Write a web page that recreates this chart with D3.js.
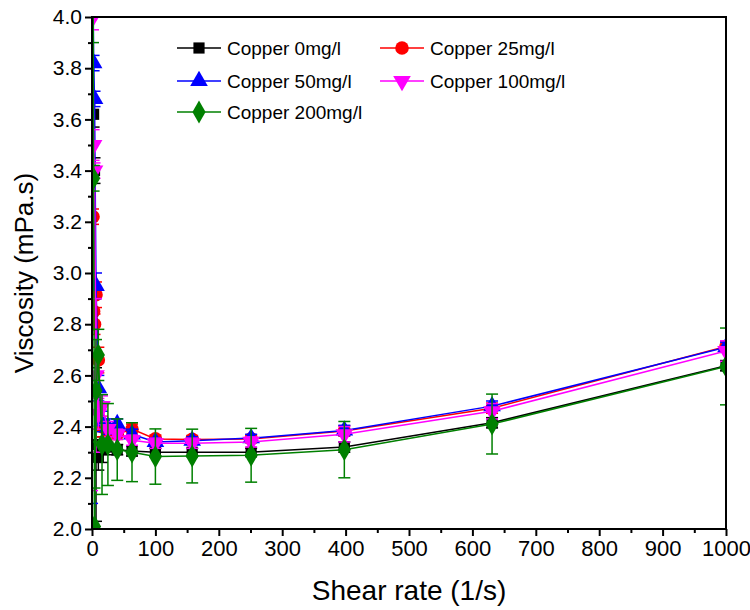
<!DOCTYPE html>
<html>
<head>
<meta charset="utf-8">
<script src="https://cdn.jsdelivr.net/npm/d3@7"></script>
<style>
  body { margin: 0; background: #fff; }
  svg { display: block; }
  .ytick text { font-family: "Liberation Sans", Arial, sans-serif; font-size: 21px; fill: #000; }
  .xtick text { font-family: "Liberation Sans Narrow", "Arial Narrow", "Liberation Sans", sans-serif; font-size: 22px; fill: #000; }
  .legend text { font-family: "Liberation Sans", Arial, sans-serif; font-size: 19px; fill: #000; }
</style>
</head>
<body>
<div id="chart"></div>
<script>
// chart data
var shearRate = [0.1, 0.158, 0.251, 0.398, 0.631, 1, 1.58, 2.51, 3.98, 6.31, 10, 15.8, 25.1, 39.8, 63.1, 100, 158, 251, 398, 631, 1000];

var copper0 = [5.4, 5.1, 4.8, 4.6, 4.4, 4.3, 4.2, 3.62, 3.40, 2.33, 2.28, 2.31, 2.32, 2.31, 2.305, 2.30, 2.30, 2.30, 2.32, 2.415, 2.638];
var copper25 = [5.6, 5.2, 4.9, 4.6, 4.4, 4.2, 3.22, 2.85, 2.80, 2.915, 2.66, 2.40, 2.38, 2.37, 2.39, 2.352, 2.35, 2.352, 2.383, 2.472, 2.713];
var copper50 = [1.9, 5.3, 5.0, 4.7, 4.5, 4.3, 4.2, 3.82, 3.68, 2.95, 2.55, 2.42, 2.40, 2.41, 2.37, 2.34, 2.345, 2.355, 2.385, 2.48, 2.71];
var copper100 = [1.95, 5.5, 5.1, 4.8, 4.5, 4.3, 4.0, 3.50, 3.40, 2.60, 2.45, 2.48, 2.39, 2.37, 2.347, 2.335, 2.335, 2.34, 2.37, 2.46, 2.695];
var copper200 = [5.0, 4.8, 4.6, 4.5, 4.4, 4.3, 4.2, 3.37, 2.01, 2.54, 2.68, 2.33, 2.33, 2.31, 2.30, 2.283, 2.285, 2.288, 2.31, 2.41, 2.635];

// standard deviations (error bars)
var err0 = [0.2, 0.2, 0.2, 0.2, 0.2, 0.2, 0.2, 0.05, 0.05, 0.3, 0.05, 0.05, 0.03, 0.02, 0.02, 0.015, 0.015, 0.015, 0.02, 0.02, 0.02];
var err25 = [0.2, 0.2, 0.2, 0.2, 0.2, 0.2, 0.03, 0.05, 0.04, 0.05, 0.05, 0.04, 0.03, 0.02, 0.02, 0.015, 0.015, 0.015, 0.02, 0.02, 0.02];
var err50 = [0.2, 0.2, 0.2, 0.2, 0.2, 0.2, 0.2, 0.03, 0.03, 0.05, 0.05, 0.04, 0.03, 0.02, 0.02, 0.015, 0.015, 0.015, 0.02, 0.02, 0.02];
var err100 = [0.2, 0.2, 0.2, 0.2, 0.2, 0.2, 0.05, 0.06, 0.03, 0.3, 0.06, 0.04, 0.03, 0.02, 0.02, 0.02, 0.02, 0.02, 0.03, 0.03, 0.04];
var err200 = [0.3, 0.3, 0.3, 0.3, 0.3, 0.3, 0.3, 0.05, 0.15, 0.2, 0.1, 0.195, 0.16, 0.12, 0.115, 0.108, 0.105, 0.105, 0.11, 0.117, 0.15];

var seriesNames = ["Copper 0mg/l", "Copper 25mg/l", "Copper 50mg/l", "Copper 100mg/l", "Copper 200mg/l"];
var seriesColors = ["#000000", "#ff0000", "#0000ff", "#ff00ff", "#008000"];
var seriesValues = [copper0, copper25, copper50, copper100, copper200];
var seriesErrors = [err0, err25, err50, err100, err200];
var seriesSymbols = [d3.symbolSquare, d3.symbolCircle, d3.symbolTriangle, d3.symbolTriangle, d3.symbolDiamond];

// setting up SVG
var svgWidth = 750;
var svgHeight = 610;

var margin = { top: 17, right: 24, bottom: 81, left: 92 };
var width = svgWidth - margin.left - margin.right;
var height = svgHeight - margin.top - margin.bottom;

var svg = d3.select("#chart")
  .append("svg")
  .attr("width", svgWidth)
  .attr("height", svgHeight);

var chartGroup = svg.append("g")
  .attr("transform", `translate(${margin.left}, ${margin.top})`);

var xScale = d3.scaleLinear().domain([0, 1000]).range([0, width]);
var yScale = d3.scaleLinear().domain([2.0, 4.0]).range([height, 0]);

// minor ticks
chartGroup.append("g")
  .attr("transform", `translate(0, ${height})`)
  .call(d3.axisBottom(xScale).tickValues(d3.range(50, 1000, 100)).tickSize(4).tickFormat(""))
  .call(g => g.select(".domain").remove())
  .selectAll("line").attr("stroke-width", 2);

chartGroup.append("g")
  .call(d3.axisLeft(yScale).tickValues(d3.range(2.1, 4.0, 0.2)).tickSize(4).tickFormat(""))
  .call(g => g.select(".domain").remove())
  .selectAll("line").attr("stroke-width", 2);

// major ticks with labels
var xAxis = chartGroup.append("g")
  .attr("class", "xtick")
  .attr("transform", `translate(0, ${height})`)
  .call(d3.axisBottom(xScale).tickValues(d3.range(0, 1001, 100)).tickSize(7).tickPadding(4).tickFormat(d3.format("d")));
xAxis.select(".domain").remove();
xAxis.selectAll("line").attr("stroke-width", 2);
xAxis.selectAll("text").attr("font-family", null).attr("font-size", null);

var yAxis = chartGroup.append("g")
  .attr("class", "ytick")
  .call(d3.axisLeft(yScale).tickValues(d3.range(0, 11).map(i => 2 + i * 0.2)).tickSize(7).tickPadding(3).tickFormat(d3.format(".1f")));
yAxis.select(".domain").remove();
yAxis.selectAll("line").attr("stroke-width", 2);
yAxis.selectAll("text").attr("font-family", null).attr("font-size", null);

// clip for the data
chartGroup.append("clipPath")
  .attr("id", "plotClip")
  .append("rect")
  .attr("width", width)
  .attr("height", height);

var dataGroup = chartGroup.append("g").attr("clip-path", "url(#plotClip)");

var line = d3.line()
  .x((d, i) => xScale(shearRate[i]))
  .y(d => yScale(d));

function symbolPath(k) {
  var sizes = [125, 145, 135, 135, 150];
  return d3.symbol().type(seriesSymbols[k]).size(sizes[k])();
}

seriesValues.forEach(function(values, k) {
  var color = seriesColors[k];
  var g = dataGroup.append("g");

  // error bars
  var bars = g.selectAll(".err")
    .data(values)
    .enter()
    .append("g")
    .attr("stroke", color)
    .attr("stroke-width", 1.5);

  bars.append("line")
    .attr("x1", (d, i) => xScale(shearRate[i]))
    .attr("x2", (d, i) => xScale(shearRate[i]))
    .attr("y1", (d, i) => yScale(d - seriesErrors[k][i]))
    .attr("y2", (d, i) => yScale(d + seriesErrors[k][i]));

  [-1, 1].forEach(function(sign) {
    bars.append("line")
      .attr("x1", (d, i) => xScale(shearRate[i]) - 6)
      .attr("x2", (d, i) => xScale(shearRate[i]) + 6)
      .attr("y1", (d, i) => yScale(d + sign * seriesErrors[k][i]))
      .attr("y2", (d, i) => yScale(d + sign * seriesErrors[k][i]));
  });

  // connecting line
  g.append("path")
    .datum(values)
    .attr("fill", "none")
    .attr("stroke", color)
    .attr("stroke-width", 1.5)
    .attr("d", line);

  // markers
  g.selectAll(".marker")
    .data(values)
    .enter()
    .append("path")
    .attr("d", symbolPath(k))
    .attr("fill", color)
    .attr("transform", function(d, i) {
      var rot = k === 3 ? " rotate(180)" : "";
      return `translate(${xScale(shearRate[i])}, ${yScale(d)})${rot}`;
    });
});

// frame
chartGroup.append("rect")
  .attr("width", width)
  .attr("height", height)
  .attr("fill", "none")
  .attr("stroke", "#000")
  .attr("stroke-width", 2);

// legend
var legendPos = [[85, 31], [288, 31], [85, 64], [288, 64], [85, 95]];
var legend = chartGroup.append("g").attr("class", "legend");

seriesNames.forEach(function(name, k) {
  var item = legend.append("g")
    .attr("transform", `translate(${legendPos[k][0]}, ${legendPos[k][1]})`);
  item.append("line")
    .attr("x1", 0).attr("x2", 44)
    .attr("stroke", seriesColors[k])
    .attr("stroke-width", 1.5);
  item.append("path")
    .attr("d", symbolPath(k))
    .attr("fill", seriesColors[k])
    .attr("transform", `translate(22, 0)${k === 3 ? " rotate(180)" : ""}`);
  item.append("text")
    .attr("x", 50)
    .attr("dy", "0.35em")
    .text(name);
});

// axis titles
svg.append("text")
  .attr("x", margin.left + width / 2)
  .attr("y", 600)
  .attr("text-anchor", "middle")
  .style("font-family", "'Liberation Sans Narrow', 'Arial Narrow', sans-serif")
  .style("font-size", "28px")
  .text("Shear rate (1/s)");

svg.append("text")
  .attr("transform", "rotate(-90)")
  .attr("x", -(margin.top + height / 2))
  .attr("y", 33)
  .attr("text-anchor", "middle")
  .style("font-family", "'Liberation Sans', Arial, sans-serif")
  .style("font-size", "26px")
  .text("Viscosity (mPa.s)");
</script>
</body>
</html>
